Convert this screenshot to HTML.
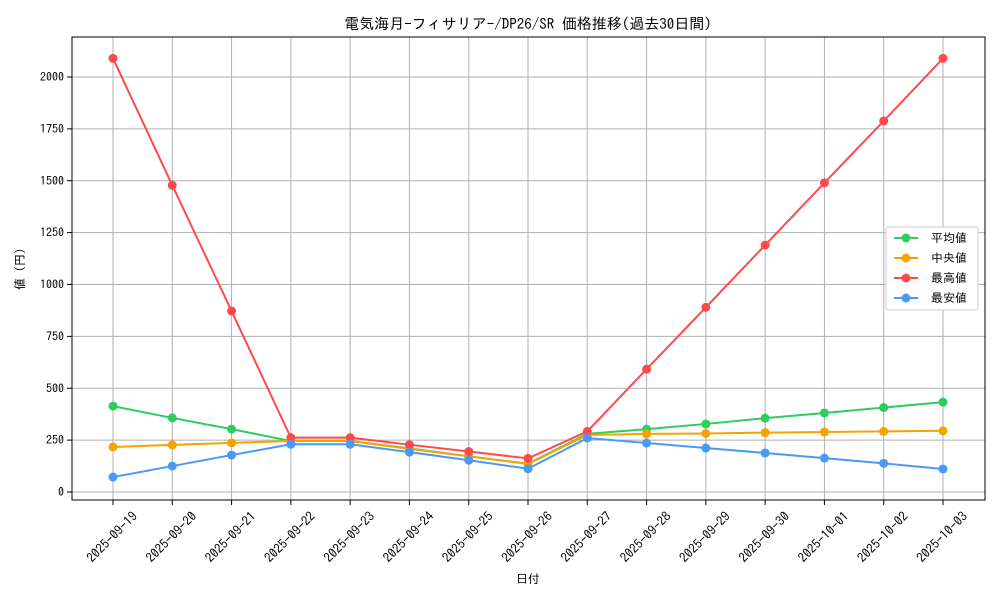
<!DOCTYPE html>
<html><head><meta charset="utf-8"><style>
body{margin:0;background:#fff;font-family:"IPAGothic","Noto Sans CJK JP",monospace;}
svg text{font-family:"IPAGothic","Noto Sans CJK JP",monospace;}
</style></head><body>
<svg id="chart" width="1000" height="600">
<rect x="0" y="0" width="1000" height="600" fill="#fff"/>
<text x="528" y="29" text-anchor="middle" font-size="15">電気海月-フィサリア-/DP26/SR 価格推移(過去30日間)</text>
<g id="grid"></g><g id="series"></g>
<rect x="72" y="37" width="913" height="463" fill="none" stroke="#000" stroke-width="1"/>
<text x="528" y="583" text-anchor="middle" font-size="12">日付</text>
<text x="24" y="269" text-anchor="middle" font-size="12" transform="rotate(-90 24 269)">値 (円)</text>
<g>
<rect x="886" y="227" width="92" height="83" fill="#fff" stroke="#ccc" rx="2"/>
<g id="legend"></g>
</g>
</svg>
<script>
const categories=["2025-09-19","2025-09-20","2025-09-21","2025-09-22","2025-09-23","2025-09-24","2025-09-25","2025-09-26","2025-09-27","2025-09-28","2025-09-29","2025-09-30","2025-10-01","2025-10-02","2025-10-03"];
const avgValues=[414,357,303,246,246,210,172,136,280,303,328,356,381,407,433];
const medianValues=[217,227,237,246,246,208,172,135,275,280,282,286,289,292,295];
const maxValues=[2090,1478,872,262,262,228,195,162,292,592,890,1190,1490,1788,2090];
const minValues=[72,125,178,230,230,192,153,112,260,236,212,188,163,138,111];
const yTicks=[0,250,500,750,1000,1250,1500,1750,2000];
const seriesNames=["平均値","中央値","最高値","最安値"];
const seriesColors=["#2ecc61","#f5a300","#ff4a4a","#4a9af5"];
const NS="http://www.w3.org/2000/svg";
function xS(i){return 113+i*(943-113)/(categories.length-1);}
function yS(v){return 492-v*(492-77)/2000;}
function mk(t,a,p){const e=document.createElementNS(NS,t);for(const k in a)e.setAttribute(k,a[k]);p.appendChild(e);return e;}
const grid=document.getElementById('grid'),ser=document.getElementById('series'),leg=document.getElementById('legend');
categories.forEach((c,i)=>{
 const l=mk('line',{x1:xS(i),x2:xS(i),y1:37,y2:500,stroke:'#b0b0b0','stroke-width':1},grid);
 
 
 mk('line',{x1:xS(i),x2:xS(i),y1:500,y2:505,stroke:'#000'},grid);
 const cx=xS(i)-1,cy=537;
 const t=mk('text',{x:cx,y:cy,'font-size':13,'text-anchor':'middle','dominant-baseline':'central',transform:`rotate(-45 ${cx} ${cy})`},grid);
 t.textContent=c;
 
 
});
yTicks.forEach(v=>{
 const l=mk('line',{x1:72,x2:985,y1:yS(v),y2:yS(v),stroke:'#b0b0b0','stroke-width':1},grid);
 
 
 mk('line',{x1:67,x2:72,y1:yS(v),y2:yS(v),stroke:'#000'},grid);
 const t=mk('text',{x:64,y:yS(v)+4,'font-size':12,'text-anchor':'end'},grid);
 t.textContent=v;
 
 
});
[avgValues,medianValues,maxValues,minValues].forEach((vals,s)=>{
 const g=mk('g',{},ser);
 
 
 mk('polyline',{points:vals.map((v,i)=>xS(i)+','+yS(v)).join(' '),fill:'none',stroke:seriesColors[s],'stroke-width':2},g);
 vals.forEach((v,i)=>{
  const c=mk('circle',{cx:xS(i),cy:yS(v),r:4.5,fill:seriesColors[s]},g);
  
  
 });
 const y=238+s*20;
 const e=mk('g',{},leg);
 
 
 mk('line',{x1:894,x2:918,y1:y,y2:y,stroke:seriesColors[s],'stroke-width':2},e);
 mk('circle',{cx:906,cy:y,r:4.5,fill:seriesColors[s]},e);
 const t=mk('text',{x:931,y:y+4,'font-size':12},e);t.textContent=seriesNames[s];
});
</script>
</body></html>
